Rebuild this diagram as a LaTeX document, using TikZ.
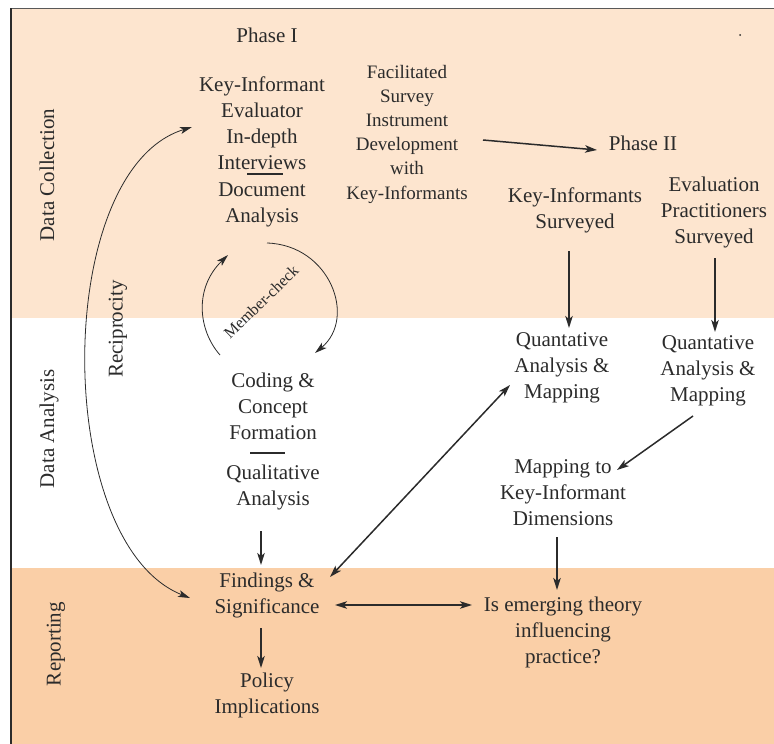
\documentclass[tikz,border=0pt]{standalone}
\usepackage{fontspec}
\setmainfont{Liberation Serif}
\usetikzlibrary{arrows.meta}
\definecolor{bandtop}{HTML}{FDE5CF}
\definecolor{bandbot}{HTML}{FACFA7}
\definecolor{ink}{HTML}{2B2B2B}
\tikzset{
  lbl/.style={align=center, inner sep=0pt, text=ink, font=\fontsize{21}{26}\selectfont},
  smalllbl/.style={align=center, inner sep=0pt, text=ink, font=\fontsize{19}{24.2}\selectfont},
  rowlbl/.style={rotate=90, inner sep=0pt, text=ink, font=\fontsize{21}{24}\selectfont},
  arr/.style={-{Stealth[length=12pt,width=7.5pt,inset=3pt]}, line width=1.5pt, draw=ink},
  darr/.style={{Stealth[length=12pt,width=7.5pt,inset=3pt]}-{Stealth[length=12pt,width=7.5pt,inset=3pt]}, line width=1.5pt, draw=ink},
  curvearr/.style={-{Stealth[length=12pt,width=7pt,inset=3pt]}, line width=0.8pt, draw=ink},
  curvedarr/.style={{Stealth[length=12pt,width=7pt,inset=3pt]}-{Stealth[length=12pt,width=7pt,inset=3pt]}, line width=0.8pt, draw=ink},
  rule/.style={line width=1.4pt, draw=ink}
}
\begin{document}
\begin{tikzpicture}[x=1pt,y=-1pt]
\useasboundingbox (0,0) rectangle (774,744);
% bands
\fill[bandtop] (11,8) rectangle (774,318);
\fill[bandbot] (11,568) rectangle (774,744);
\draw[black!65, line width=1pt] (11,8) -- (774,8);
\draw[ink, line width=1.3pt] (11,8) -- (11,744);
% row labels
\node[rowlbl] (rdc) at (47,175) {Data Collection};
\node[rowlbl] (rda) at (49,429) {Data Analysis};
\node[rowlbl] (rrp) at (56,644) {Reporting};
% nodes
\node[lbl] (ph1) at (267,35) {Phase I};
\fill[ink] (740,35) circle (1pt);
\node[lbl] (ki) at (262,123) {Key-Informant\\Evaluator\\In-depth\\Interviews};
\node[lbl] (doc) at (262,205) {Document\\Analysis};
\draw[rule] ([shift={(-15,51)}]ki.center) -- ([shift={(21,51)}]ki.center);
\node[smalllbl] (fac) at (407,134) {Facilitated\\Survey\\Instrument\\Development\\with\\Key-Informants};
\node[lbl] (ph2) at (643,143) {Phase II};
\node[lbl] (kis) at (575,210) {Key-Informants\\Surveyed};
\node[lbl] (eps) at (714,212) {Evaluation\\Practitioners\\Surveyed};
\node[lbl] (qam1) at (562,368) {Quantative\\Analysis \&\\Mapping};
\node[lbl] (qam2) at (708,371) {Quantative\\Analysis \&\\Mapping};
\node[lbl] (map) at (563,493) {Mapping to\\Key-Informant\\Dimensions};
\node[lbl] (cod) at (273,406) {Coding \&\\Concept\\Formation};
\draw[rule] ([shift={(-23,47)}]cod.center) -- ([shift={(12,47)}]cod.center);
\node[lbl] (qual) at (273,487) {Qualitative\\Analysis};
\node[lbl] (find) at (267,595) {Findings \&\\Significance};
\node[lbl] (pol) at (267,695) {Policy\\Implications};
\node[lbl] (emerg) at (563,632) {Is emerging theory\\influencing\\practice?};
\node[rowlbl] (recip) at (118,329) {Reciprocity};
\node[inner sep=0pt, text=ink, rotate=44, font=\fontsize{16}{18}\selectfont] (mc) at (261,302) {Member-check};
% connectors
\draw[arr] ([shift={(76,6)}]fac.center) -- ([shift={(-46,7)}]ph2.center);
\draw[arr] ([shift={(-6,41)}]kis.center) -- ([shift={(7,-40)}]qam1.center);
\draw[arr] ([shift={(1,46)}]eps.center) -- ([shift={(7,-39)}]qam2.center);
\draw[arr] ([shift={(-15,45)}]qam2.center) -- ([shift={(54,-23)}]map.center);
\draw[arr] ([shift={(-6,44)}]map.center) -- ([shift={(-6,-42)}]emerg.center);
\draw[arr] ([shift={(-12,44)}]qual.center) -- ([shift={(-6,-30)}]find.center);
\draw[arr] ([shift={(-6,33)}]find.center) -- ([shift={(-6,-27)}]pol.center);
\draw[darr] ([shift={(68,10)}]find.center) -- ([shift={(-91,-27)}]emerg.center);
\draw[darr] ([shift={(63,-18)}]find.center) -- ([shift={(-52,17)}]qam1.center);
% reciprocity curve
\draw[curvedarr] ([shift={(-77,3)}]find.center) .. controls +(-138,-55) and +(-140,43) .. ([shift={(-70,4)}]ki.center);
% member-check loop
\draw[curvearr] ([shift={(5,38)}]doc.center) .. controls +(63,2) and +(42,-35) .. ([shift={(42,-53)}]cod.center);
\draw[curvearr] ([shift={(-53,-51)}]cod.center) .. controls +(-22,-25) and +(-34,33) .. ([shift={(-34,50)}]doc.center);
\end{tikzpicture}
\end{document}
